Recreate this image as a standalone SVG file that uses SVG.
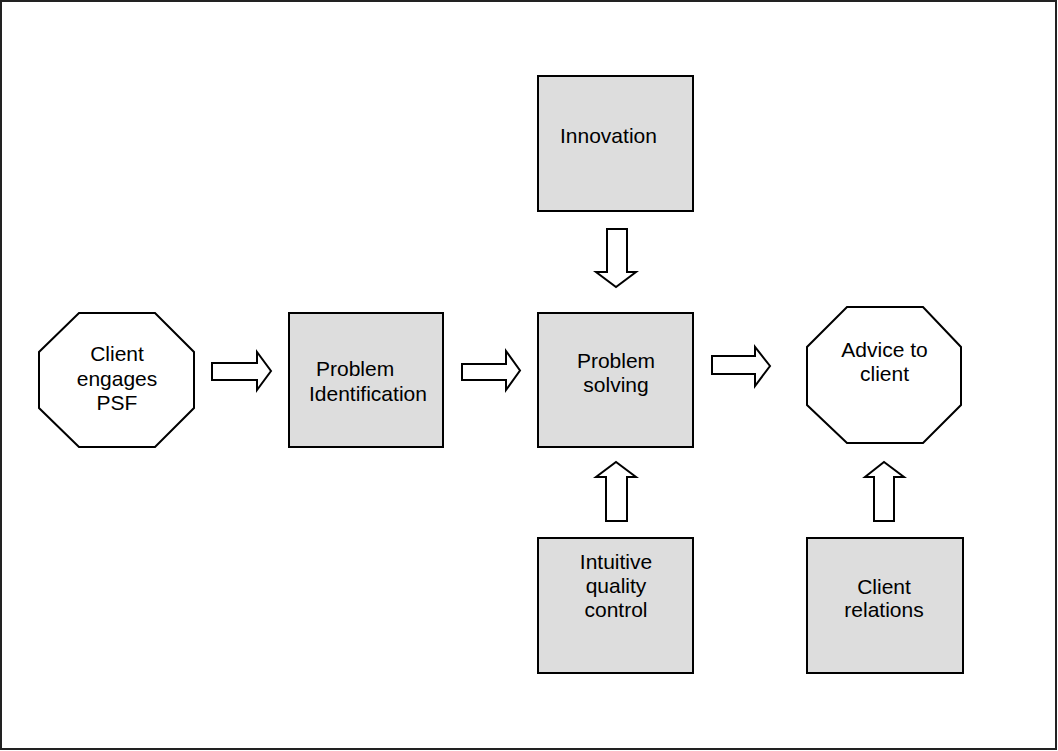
<svg xmlns="http://www.w3.org/2000/svg" width="1058" height="751" viewBox="0 0 1058 751">
<style>
.box{fill:#dddddd;stroke:#000;stroke-width:2}
.oct{fill:#fff;stroke:#000;stroke-width:2}
.arr{fill:#fff;stroke:#000;stroke-width:2;stroke-linejoin:miter}
text{font-family:"Liberation Sans",Arial,sans-serif;font-size:21px;fill:#000}
.c{text-anchor:middle}
</style>
<rect x="1" y="1" width="1055" height="748" fill="#fff" stroke="#222" stroke-width="2"/>
<g id="client-engages">
<polygon class="oct" points="79,313 155,313 194,352 194,408 155,447 79,447 39,408 39,352"/>
<text class="c" x="117" y="361">Client</text>
<text class="c" x="117" y="385.5">engages</text>
<text class="c" x="117" y="410">PSF</text>
</g>
<g id="problem-identification">
<rect class="box" x="289" y="313" width="154" height="134"/>
<text x="316" y="376">Problem</text>
<text x="309" y="401">Identification</text>
</g>
<g id="innovation">
<rect class="box" x="538" y="76" width="155" height="135"/>
<text x="560" y="143">Innovation</text>
</g>
<g id="problem-solving">
<rect class="box" x="538" y="313" width="155" height="134"/>
<text class="c" x="616" y="368">Problem</text>
<text class="c" x="616" y="392">solving</text>
</g>
<g id="advice-to-client">
<polygon class="oct" points="847,307 923,307 961,347 961,405 923,443 847,443 807,405 807,347"/>
<text class="c" x="884.5" y="357">Advice to</text>
<text class="c" x="884.5" y="381">client</text>
</g>
<g id="intuitive-quality-control">
<rect class="box" x="538" y="538" width="155" height="135"/>
<text class="c" x="616" y="569">Intuitive</text>
<text class="c" x="616" y="593">quality</text>
<text class="c" x="616" y="617">control</text>
</g>
<g id="client-relations">
<rect class="box" x="807" y="538" width="156" height="135"/>
<text class="c" x="884" y="594">Client</text>
<text class="c" x="884" y="617">relations</text>
</g>
<g id="connectors">
<polygon class="arr" points="212,363 257,363 257,352 271,371 257,390 257,380 212,380"/>
<polygon class="arr" points="462,364 506,364 506,351 520,370.5 506,390 506,380 462,380"/>
<polygon class="arr" points="712,356 755,356 755,347 770,366 755,386 755,374 712,374"/>
<polygon class="arr" points="607,229 627,229 627,272 636,272 616,287 596,272 607,272"/>
<polygon class="arr" points="606,521 627,521 627,477 636,477 616,462 596,477 606,477"/>
<polygon class="arr" points="874,521 894,521 894,477 904,477 884,462 865,477 874,477"/>
</g>
</svg>
